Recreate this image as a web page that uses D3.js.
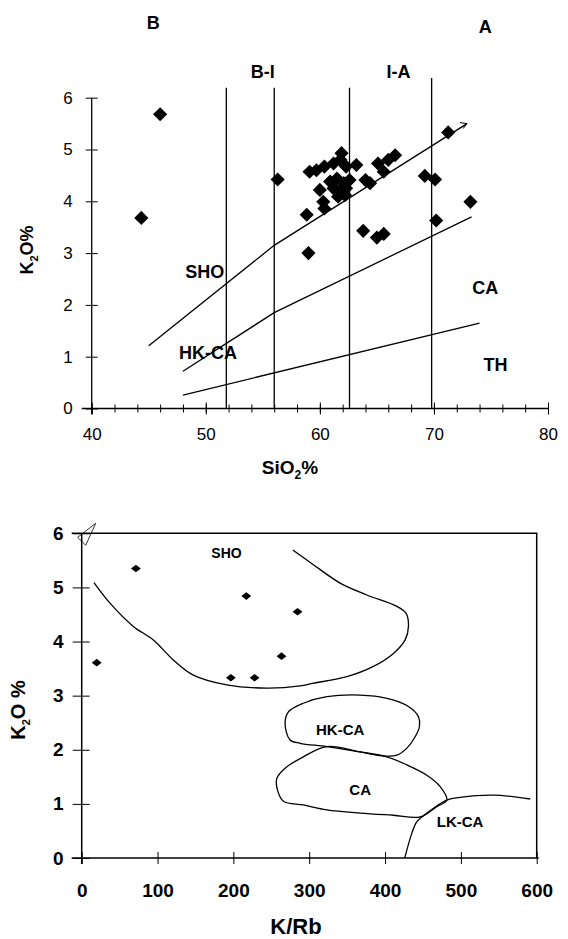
<!DOCTYPE html>
<html>
<head>
<meta charset="utf-8">
<script src="https://cdn.jsdelivr.net/npm/d3@7"></script>
<style>
  body { margin: 0; background: #fff; }
  svg { display: block; }
  text { font-family: Arial, "Liberation Sans", sans-serif; fill: #000; }
</style>
</head>
<body>
<svg id="chart" width="568" height="939"></svg>
<script>
// ---- top diagram: K2O vs SiO2 ----
var topSiO2 = [46.0, 44.35, 56.3, 71.25, 69.2, 70.1, 70.2, 73.2, 59.0, 63.8, 65.0, 65.6, 58.85,
  61.9, 63.2, 59.1, 59.7, 60.4, 61.2, 61.8, 62.3, 65.1, 65.6, 66.0, 66.6,
  60.9, 61.5, 62.1, 62.6, 61.2, 61.8, 62.3, 60.0, 61.6, 62.2, 64.0, 64.4, 60.3, 60.4];
var topK2O = [5.68, 3.68, 4.42, 5.33, 4.49, 4.42, 3.63, 3.99, 3.0, 3.43, 3.30, 3.37, 3.74,
  4.93, 4.70, 4.57, 4.60, 4.67, 4.73, 4.80, 4.67, 4.73, 4.57, 4.80, 4.89,
  4.38, 4.44, 4.35, 4.41, 4.25, 4.22, 4.25, 4.22, 4.09, 4.12, 4.41, 4.35, 3.99, 3.86];

var topXTicks = [40, 50, 60, 70, 80];
var topYTicks = [0, 1, 2, 3, 4, 5, 6];

// boundary lines (SiO2, K2O)
var shoLineX = [45, 56, 72.9], shoLineY = [1.21, 3.15, 5.5];
var hkLineX = [48, 56, 73.3], hkLineY = [0.72, 1.85, 3.7];
var thLineX = [48, 74], thLineY = [0.26, 1.65];

var divX = [51.8, 56, 62.6, 69.8];
var divTop = [6.19, 6.19, 6.19, 6.38];

var topLabels = ["SHO", "HK-CA", "CA", "TH", "B", "A", "B-I", "I-A"];
var topLabelX = [49.9, 50.2, 74.5, 75.4, 45.4, 74.5, 55.0, 66.9];
var topLabelY = [2.64, 1.07, 2.33, 0.84, 7.44, 7.36, 6.49, 6.49];

// ---- bottom diagram: K2O vs K/Rb ----
var botKRb = [71.5, 19.8, 217, 196.7, 228, 263.5, 284.6];
var botK2O = [5.35, 3.61, 4.84, 3.33, 3.33, 3.73, 4.55];

var botXTicks = [0, 100, 200, 300, 400, 500, 600];
var botYTicks = [0, 1, 2, 3, 4, 5, 6];

var shoCurveX = [16.2, 37.3, 68.1, 94.5, 120.8, 147.2, 191.3, 244.1, 288, 305.5, 349.6, 384.7, 411.1, 426.5, 430.9, 427.8, 415.6, 376, 340.8, 305.5, 278.4];
var shoCurveY = [5.09, 4.71, 4.28, 4.03, 3.66, 3.38, 3.20, 3.14, 3.18, 3.23, 3.35, 3.54, 3.78, 4.03, 4.28, 4.52, 4.65, 4.86, 5.08, 5.42, 5.69];

var hkFieldX = [274.8, 268.2, 272.6, 292.3, 323.2, 367.2, 402.4, 430.9, 444.1, 445.4, 439.7, 428.8, 415.6, 395.8, 367.2, 323.2, 288];
var hkFieldY = [2.18, 2.49, 2.70, 2.86, 2.98, 3.01, 2.95, 2.80, 2.61, 2.43, 2.24, 2.03, 1.90, 1.89, 1.96, 2.06, 2.12];

var caFieldX = [323.2, 292.3, 268.2, 257.3, 258.5, 266, 292.3, 323.2, 367.2, 411.1, 446.3, 468.3, 481.5, 472.7, 455.1, 428.8, 402.4, 367.2];
var caFieldY = [2.06, 1.87, 1.66, 1.47, 1.24, 1.05, 0.98, 0.89, 0.83, 0.79, 0.76, 0.95, 1.07, 1.32, 1.53, 1.72, 1.87, 1.96];

var lkLineX = [426, 435.4, 442, 450.7, 463.9, 481.5, 499.1, 543, 591.4];
var lkLineY = [0, 0.46, 0.67, 0.78, 0.92, 1.07, 1.12, 1.16, 1.09];

var botLabels = ["SHO", "HK-CA", "CA", "LK-CA"];
var botLabelX = [191, 340.8, 367.2, 499];
var botLabelY = [5.63, 2.38, 1.26, 0.68];

var svg = d3.select("#chart");

function zip(xs, ys) {
	return xs.map(function(v, i) { return [v, ys[i]]; });
}

// cross style ticks: line through the axis
function crossTicks(g, horiz, a, b) {
	g.selectAll(".tick line")
		.attr(horiz ? "y1" : "x1", a)
		.attr(horiz ? "y2" : "x2", b);
}

// ================= top =================
var x1 = d3.scaleLinear().domain([40, 80]).range([91.7, 548]);
var y1 = d3.scaleLinear().domain([0, 6]).range([408.5, 97.7]);
var gTop = svg.append("g");

// minor ticks every 2
gTop.append("g")
	.attr("transform", "translate(0," + y1(0) + ")")
	.call(d3.axisBottom(x1).tickValues(d3.range(40, 81, 2)).tickFormat("").tickSizeOuter(0))
	.call(function(g) { g.select(".domain").remove(); crossTicks(g, true, -4, 4); })
	.selectAll("line").attr("stroke-width", 1);

var xa1 = gTop.append("g")
	.attr("transform", "translate(0," + y1(0) + ")")
	.call(d3.axisBottom(x1).tickValues(topXTicks).tickFormat(d3.format("d")).tickSizeOuter(0).tickPadding(13));
crossTicks(xa1, true, -6, 6);
xa1.select(".domain").attr("d", "M" + (x1(40) - 10) + ",0H" + x1(80)).attr("stroke-width", 1.3);
xa1.selectAll("text").attr("font-size", 17).attr("font-family", "Arial, sans-serif");

var ya1 = gTop.append("g")
	.attr("transform", "translate(" + x1(40) + ",0)")
	.call(d3.axisLeft(y1).tickValues(topYTicks).tickFormat(d3.format("d")).tickSizeOuter(0).tickPadding(13));
crossTicks(ya1, false, -6, 6);
ya1.select(".domain").attr("d", "M0," + (y1(0) + 6) + "V" + y1(6)).attr("stroke-width", 1.3);
ya1.selectAll("text").attr("font-size", 17).attr("font-family", "Arial, sans-serif");

// division lines
gTop.selectAll(".div").data(divX).enter().append("line")
	.attr("x1", function(d) { return x1(d); })
	.attr("x2", function(d) { return x1(d); })
	.attr("y1", y1(0))
	.attr("y2", function(d, i) { return y1(divTop[i]); })
	.attr("stroke", "#000").attr("stroke-width", 1.3);

var lineTop = d3.line().x(function(d) { return x1(d[0]); }).y(function(d) { return y1(d[1]); });
[zip(shoLineX, shoLineY), zip(hkLineX, hkLineY), zip(thLineX, thLineY)].forEach(function(pts) {
	gTop.append("path").attr("d", lineTop(pts))
		.attr("fill", "none").attr("stroke", "#000").attr("stroke-width", 1.3);
});

// little arrow head at the end of the SHO line
var ae = [x1(shoLineX[2]), y1(shoLineY[2])];
gTop.append("path")
	.attr("d", "M" + (ae[0] - 7) + "," + (ae[1] - 1) + "L" + ae[0] + "," + ae[1] + "L" + (ae[0] - 4) + "," + (ae[1] + 5))
	.attr("fill", "none").attr("stroke", "#000").attr("stroke-width", 1);

gTop.selectAll(".pt").data(d3.range(topSiO2.length)).enter().append("path")
	.attr("d", d3.symbol(d3.symbolSquare, 100))
	.attr("transform", function(i) { return "translate(" + x1(topSiO2[i]) + "," + y1(topK2O[i]) + ") rotate(45)"; })
	.attr("fill", "#000");

gTop.selectAll(".lab").data(topLabels).enter().append("text")
	.attr("x", function(d, i) { return x1(topLabelX[i]); })
	.attr("y", function(d, i) { return y1(topLabelY[i]); })
	.attr("text-anchor", "middle").attr("dominant-baseline", "central")
	.attr("font-weight", "bold").attr("font-size", 18)
	.text(function(d) { return d; });

var tx = gTop.append("text").attr("x", 290).attr("y", 474).attr("text-anchor", "middle")
	.attr("font-weight", "bold").attr("font-size", 19);
tx.append("tspan").text("SiO");
tx.append("tspan").attr("font-size", 12).attr("dy", 5).text("2");
tx.append("tspan").attr("dy", -5).text("%");

var ty = gTop.append("text").attr("transform", "translate(33,250) rotate(-90)").attr("text-anchor", "middle")
	.attr("font-weight", "bold").attr("font-size", 18);
ty.append("tspan").text("K");
ty.append("tspan").attr("font-size", 11).attr("dy", 5).text("2");
ty.append("tspan").attr("dy", -5).text("O%");

// ================= bottom =================
var x2 = d3.scaleLinear().domain([0, 600]).range([81.7, 536.7]);
var y2 = d3.scaleLinear().domain([0, 6]).range([858, 533.3]);
var gBot = svg.append("g");

// frame top and right
gBot.append("path")
	.attr("d", "M" + (x2(0) - 10) + "," + y2(6) + "H" + x2(600) + "V" + y2(0))
	.attr("fill", "none").attr("stroke", "#000").attr("stroke-width", 1.5);

var xa2 = gBot.append("g")
	.attr("transform", "translate(0," + y2(0) + ")")
	.call(d3.axisBottom(x2).tickValues(botXTicks).tickFormat(d3.format("d")).tickSizeOuter(0).tickPadding(20));
crossTicks(xa2, true, -6, 6);
xa2.select(".domain").attr("d", "M" + (x2(0) - 10) + ",0H" + (x2(600) + 2)).attr("stroke-width", 1.5);
xa2.selectAll("text").attr("font-size", 19).attr("font-weight", "bold").attr("font-family", "Arial, sans-serif");

var ya2 = gBot.append("g")
	.attr("transform", "translate(" + x2(0) + ",0)")
	.call(d3.axisLeft(y2).tickValues(botYTicks).tickFormat(d3.format("d")).tickSizeOuter(0).tickPadding(12));
crossTicks(ya2, false, -9, 8);
ya2.select(".domain").attr("d", "M0," + (y2(0) + 6) + "V" + y2(6)).attr("stroke-width", 1.5);
ya2.selectAll("text").attr("font-size", 19).attr("font-weight", "bold").attr("font-family", "Arial, sans-serif");

// small mark at the corner
var cx = x2(0), cy = y2(6);
gBot.append("path")
	.attr("d", "M" + (cx - 4) + "," + (cy + 4) + "L" + (cx + 14) + "," + (cy - 10) + "L" + (cx + 4) + "," + (cy + 12) + "Z")
	.attr("fill", "none").attr("stroke", "#000").attr("stroke-width", 0.8);

var lineBot = d3.line().x(function(d) { return x2(d[0]); }).y(function(d) { return y2(d[1]); });
gBot.append("path").attr("d", lineBot.curve(d3.curveCatmullRom)(zip(shoCurveX, shoCurveY)))
	.attr("fill", "none").attr("stroke", "#000").attr("stroke-width", 1.3);
gBot.append("path").attr("d", lineBot.curve(d3.curveCatmullRomClosed)(zip(hkFieldX, hkFieldY)))
	.attr("fill", "none").attr("stroke", "#000").attr("stroke-width", 1.3);
gBot.append("path").attr("d", lineBot.curve(d3.curveCatmullRomClosed)(zip(caFieldX, caFieldY)))
	.attr("fill", "none").attr("stroke", "#000").attr("stroke-width", 1.3);
gBot.append("path").attr("d", lineBot.curve(d3.curveCatmullRom)(zip(lkLineX, lkLineY)))
	.attr("fill", "none").attr("stroke", "#000").attr("stroke-width", 1.3);

gBot.selectAll(".pt").data(d3.range(botKRb.length)).enter().append("path")
	.attr("d", d3.symbol(d3.symbolSquare, 40))
	.attr("transform", function(i) { return "translate(" + x2(botKRb[i]) + "," + y2(botK2O[i]) + ") scale(1.1,0.85) rotate(45)"; })
	.attr("fill", "#000");

gBot.selectAll(".lab").data(botLabels).enter().append("text")
	.attr("x", function(d, i) { return x2(botLabelX[i]); })
	.attr("y", function(d, i) { return y2(botLabelY[i]); })
	.attr("text-anchor", "middle").attr("dominant-baseline", "central")
	.attr("font-weight", "bold").attr("font-size", function(d) { return d == "SHO" ? 14 : 15; })
	.text(function(d) { return d; });

gBot.append("text").attr("x", 296).attr("y", 934).attr("text-anchor", "middle")
	.attr("font-weight", "bold").attr("font-size", 22).text("K/Rb");

var ty2 = gBot.append("text").attr("transform", "translate(25,710) rotate(-90)").attr("text-anchor", "middle")
	.attr("font-weight", "bold").attr("font-size", 20);
ty2.append("tspan").text("K");
ty2.append("tspan").attr("font-size", 11).attr("dy", 5).text("2");
ty2.append("tspan").attr("dy", -5).text("O %");
</script>
</body>
</html>
